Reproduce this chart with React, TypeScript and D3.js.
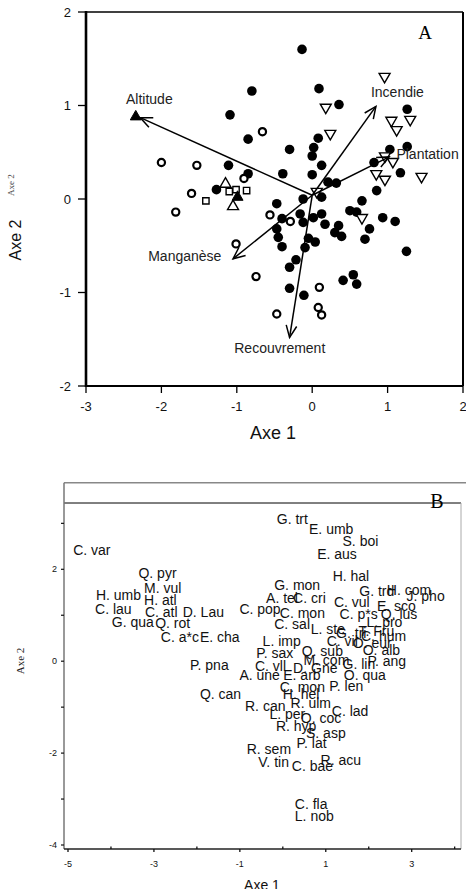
import React from "react";
import * as d3 from "d3";

// ---------- Panel A data ----------
const filledCircles: [number, number][] = [
  [-0.135, 1.6], [-0.8, 1.155], [0.09, 1.18], [0.355, 1.01], [-1.09, 0.9], [-0.85, 0.64],
  [-0.3, 0.53], [0.08, 0.65], [0.02, 0.55], [1.26, 0.96], [1.03, 0.53], [1.26, 0.56],
  [0.0, 0.46], [0.125, 0.36], [-0.39, 0.27], [0.0, 0.26], [0.21, 0.18], [0.32, 0.17],
  [0.82, 0.39], [1.17, 0.28], [0.855, 0.09], [0.66, -0.02], [-0.12, 0.0], [0.125, 0.02],
  [-0.47, -0.05], [-1.11, 0.36], [-0.85, 0.27], [-1.27, 0.1], [-0.16, -0.16], [-0.4, -0.21],
  [0.015, -0.2], [0.125, -0.16], [0.17, -0.27], [-0.12, -0.25], [0.5, -0.125], [0.59, -0.14],
  [0.935, -0.2], [1.1, -0.24], [0.35, -0.285], [0.3, -0.36], [0.39, -0.4], [0.76, -0.32],
  [0.7, -0.43], [-0.47, -0.32], [-0.45, -0.41], [-0.4, -0.51], [-0.05, -0.42], [0.04, -0.46],
  [-0.095, -0.52], [-0.215, -0.65], [-0.3, -0.73], [1.25, -0.56], [0.41, -0.87], [0.545, -0.81],
  [0.59, -0.91], [-0.3, -0.955], [-0.11, -1.03],
];
const openCircles: [number, number][] = [
  [-2.0, 0.39], [-1.53, 0.36], [-1.6, 0.06], [-1.81, -0.14], [-0.905, 0.22], [-0.66, 0.72],
  [-0.56, -0.17], [-0.29, -0.24], [-1.01, -0.48], [-0.745, -0.83], [0.095, -0.945],
  [0.08, -1.16], [0.125, -1.24], [-0.47, -1.23],
];
const openTrianglesDown: [number, number][] = [
  [0.96, 1.31], [0.18, 0.98], [0.24, 0.7], [1.05, 0.84], [1.12, 0.74], [1.3, 0.85],
  [0.965, 0.46], [1.07, 0.4], [0.85, 0.27], [0.965, 0.21], [1.45, 0.24], [0.06, 0.08], [0.66, -0.2],
];
const openTrianglesUp: [number, number][] = [[-1.15, 0.16], [-1.05, -0.08]];
const openSquares: [number, number][] = [[-1.41, -0.02], [-1.1, 0.08], [-1.01, 0.1], [-0.87, 0.09]];
const filledTriangles: [number, number][] = [[-2.34, 0.88], [-0.99, 0.02]];

const arrowNames = ["Altitude", "Incendie", "Plantation", "Manganèse", "Recouvrement"];
const arrowTips: [number, number][] = [[-2.28, 0.87], [0.845, 0.99], [1.02, 0.45], [-1.05, -0.64], [-0.3, -1.48]];
const arrowLabelPos: [number, number][] = [[-2.16, 1.07], [1.13, 1.14], [1.53, 0.48], [-1.69, -0.61], [-0.43, -1.59]];
const arrowOrigin: [number, number] = [0, 0.04];

const aXTicks = [-3, -2, -1, 0, 1, 2];
const aYTicks = [-2, -1, 0, 1, 2];

// ---------- Panel B data ----------
const speciesNames = [
  "C. var", "Q. pyr", "M. vul", "H. umb", "H. atl", "C. lau", "C. atl", "D. Lau", "G. qua", "Q. rot",
  "C. a*c", "E. cha", "P. pna", "Q. can", "G. trt", "E. umb", "S. boi", "E. aus", "H. hal", "G. mon",
  "G. trd", "H. com", "J. pho", "A. tel", "C. cri", "C. vul", "E. sco", "C. pop", "C. mon", "C. p*s",
  "Q. lus", "L. pro", "C. sal", "L. ste", "G. tri", "T. Fru", "L. imp", "C. vil", "O. eur", "C. hum",
  "O. alb", "P. sax", "Q. sub", "M. com", "P. ang", "C. vll", "D. Gne", "G. lin", "A. une", "E. arb",
  "O. qua", "C. mon", "P. len", "H. hel", "R. ulm", "R. can", "C. lad", "L. per", "O. coc", "R. hyp",
  "S. asp", "P. lat", "R. sem", "R. acu", "V. tin", "C. bae", "C. fla", "L. nob",
];
const speciesX = [
  -4.88, -3.36, -3.23, -4.35, -3.23, -4.37, -3.21, -2.33, -3.98, -2.97,
  -2.84, -1.93, -2.16, -1.93, -0.14, 0.61, 1.39, 0.8, 1.16, -0.2,
  1.78, 2.42, 2.88, -0.39, 0.24, 1.19, 2.19, -1.01, -0.07, 1.32,
  2.28, 1.95, -0.2, 0.65, 1.24, 1.76, -0.47, 1.02, 1.63, 1.82,
  1.86, -0.62, 0.44, 0.48, 1.97, -0.65, 0.24, 1.39, -1.01, 0.01,
  1.42, -0.07, 1.08, 0.0, 0.18, -0.88, 1.14, -0.31, 0.42, -0.16,
  0.54, 0.32, -0.84, 0.88, -0.57, 0.21, 0.28, 0.28,
];
const speciesY = [
  2.42, 1.91, 1.6, 1.45, 1.34, 1.14, 1.07, 1.07, 0.85, 0.84,
  0.53, 0.53, -0.09, -0.72, 3.1, 2.87, 2.61, 2.34, 1.85, 1.65,
  1.52, 1.56, 1.41, 1.38, 1.38, 1.28, 1.2, 1.13, 1.05, 1.02,
  1.02, 0.85, 0.82, 0.71, 0.62, 0.65, 0.44, 0.44, 0.39, 0.54,
  0.25, 0.18, 0.22, 0.02, 0.0, -0.11, -0.14, -0.07, -0.31, -0.31,
  -0.31, -0.56, -0.53, -0.72, -0.91, -0.98, -1.09, -1.14, -1.23, -1.41,
  -1.57, -1.77, -1.92, -2.14, -2.2, -2.29, -3.1, -3.36,
];
const bXTickLabels = [-5, -3, -1, 1, 3];
const bXTicks = [-5, -4, -3, -2, -1, 0, 1, 2, 3, 4];
const bYTickLabels = [-4, -2, 0, 2];
const bYTicks = [-4, -3, -2, -1, 0, 1, 2, 3];

const SANS = "'Liberation Sans', Arial, Helvetica, sans-serif";
const SERIF = "'Liberation Serif', 'Times New Roman', serif";

function PanelA() {
  const x = d3.scaleLinear().domain([-3, 2]).range([86, 463]);
  const y = d3.scaleLinear().domain([-2, 2]).range([386, 12]);
  const tri = d3.symbol().type(d3.symbolTriangle).size(52);
  const sq = d3.symbol().type(d3.symbolSquare).size(40);

  const arrowHead = (x0: number, y0: number, x1: number, y1: number) => {
    const ang = Math.atan2(y1 - y0, x1 - x0);
    const L = 13, a = 0.42;
    const p1 = [x1 - L * Math.cos(ang - a), y1 - L * Math.sin(ang - a)];
    const p2 = [x1 - L * Math.cos(ang + a), y1 - L * Math.sin(ang + a)];
    return `M${p1[0]},${p1[1]}L${x1},${y1}L${p2[0]},${p2[1]}`;
  };

  return (
    <g>
      {/* markers */}
      {filledCircles.map((d, i) => (
        <circle key={"fc" + i} cx={x(d[0])} cy={y(d[1])} r={4.8} fill="#000" />
      ))}
      {openCircles.map((d, i) => (
        <circle key={"oc" + i} cx={x(d[0])} cy={y(d[1])} r={3.6} fill="#fff" stroke="#000" strokeWidth={2.2} />
      ))}
      {openTrianglesDown.map((d, i) => (
        <path key={"td" + i} d={tri() as string} transform={`translate(${x(d[0])},${y(d[1])}) rotate(180)`} fill="#fff" stroke="#000" strokeWidth={1.4} />
      ))}
      {openTrianglesUp.map((d, i) => (
        <path key={"tu" + i} d={tri() as string} transform={`translate(${x(d[0])},${y(d[1])})`} fill="#fff" stroke="#000" strokeWidth={1.4} />
      ))}
      {openSquares.map((d, i) => (
        <path key={"sq" + i} d={sq() as string} transform={`translate(${x(d[0])},${y(d[1])})`} fill="#fff" stroke="#000" strokeWidth={1.4} />
      ))}
      {filledTriangles.map((d, i) => (
        <path key={"ft" + i} d={tri() as string} transform={`translate(${x(d[0])},${y(d[1])})`} fill="#000" stroke="#000" strokeWidth={1} />
      ))}
      {/* arrows */}
      {arrowTips.map((t, i) => {
        const x0 = x(arrowOrigin[0]), y0 = y(arrowOrigin[1]);
        const x1 = x(t[0]), y1 = y(t[1]);
        return (
          <g key={"ar" + i}>
            <line x1={x0} y1={y0} x2={x1} y2={y1} stroke="#000" strokeWidth={1.5} />
            <path d={arrowHead(x0, y0, x1, y1)} fill="none" stroke="#000" strokeWidth={1.5} />
            <text x={x(arrowLabelPos[i][0])} y={y(arrowLabelPos[i][1])} textAnchor="middle" dominantBaseline="central" fontFamily={SANS} fontSize={14} fill="#222">
              {arrowNames[i]}
            </text>
          </g>
        );
      })}
      {/* frame */}
      <line x1={86} y1={12} x2={463} y2={12} stroke="#000" strokeWidth={1.5} />
      <line x1={463} y1={12} x2={463} y2={386} stroke="#000" strokeWidth={2} />
      <line x1={86} y1={386} x2={463} y2={386} stroke="#000" strokeWidth={2} />
      <line x1={86} y1={11} x2={86} y2={387} stroke="#000" strokeWidth={2.6} />
      {/* ticks */}
      {aYTicks.map((t) => (
        <g key={"ay" + t}>
          <line x1={78} x2={86} y1={y(t)} y2={y(t)} stroke="#000" strokeWidth={1.3} />
          <text x={71} y={y(t)} textAnchor="end" dominantBaseline="central" fontFamily={SANS} fontSize={13} fill="#111">{t}</text>
        </g>
      ))}
      {aXTicks.map((t) => (
        <g key={"ax" + t}>
          <line x1={x(t)} x2={x(t)} y1={386} y2={393} stroke="#000" strokeWidth={1.3} />
          <text x={x(t)} y={406} textAnchor="middle" dominantBaseline="central" fontFamily={SANS} fontSize={13} fill="#111">{t}</text>
        </g>
      ))}
      <text x={425} y={39} textAnchor="middle" fontFamily={SERIF} fontSize={19} fill="#000">A</text>
      <text x={273} y={439} textAnchor="middle" fontFamily={SANS} fontSize={18} fill="#111">Axe 1</text>
      <text transform="translate(21,240) rotate(-90)" textAnchor="middle" fontFamily={SANS} fontSize={16} fill="#111">Axe 2</text>
      <text transform="translate(14,185) rotate(-90)" textAnchor="middle" fontFamily={SERIF} fontSize={9} fill="#444">Axe 2</text>
    </g>
  );
}

function PanelB() {
  const x = d3.scaleLinear().domain([-5, 3]).range([68, 411.7]);
  const y = d3.scaleLinear().domain([-4, 2]).range([845, 569.3]);
  const left = 64, right = 461, topOuter = 482.7, topInner = 503, bottom = 849;
  return (
    <g>
      {speciesNames.map((n, i) => (
        <text key={"sp" + i} x={x(speciesX[i])} y={y(speciesY[i])} dominantBaseline="central" fontFamily={SANS} fontSize={14} fill="#111">
          {n}
        </text>
      ))}
      {/* frame */}
      <line x1={left} y1={topOuter} x2={466} y2={topOuter} stroke="#888" strokeWidth={1.5} />
      <line x1={left} y1={topInner} x2={right} y2={topInner} stroke="#000" strokeWidth={1} />
      <line x1={right} y1={topInner} x2={right} y2={bottom} stroke="#aaa" strokeWidth={1} />
      <line x1={left} y1={topOuter} x2={left} y2={bottom} stroke="#777" strokeWidth={1.5} />
      <line x1={left} y1={bottom} x2={right} y2={bottom} stroke="#222" strokeWidth={1.5} />
      {bYTicks.map((t) => (
        <line key={"byt" + t} x1={left - 3} x2={left} y1={y(t)} y2={y(t)} stroke="#111" strokeWidth={1.2} />
      ))}
      {bYTickLabels.map((t) => (
        <text key={"byl" + t} x={57} y={y(t)} textAnchor="end" dominantBaseline="central" fontFamily={SANS} fontSize={9} fill="#111">{t}</text>
      ))}
      {bXTicks.map((t) => (
        <line key={"bxt" + t} x1={x(t)} x2={x(t)} y1={bottom} y2={bottom + (t % 2 === 0 ? -2.5 : 3)} stroke="#111" strokeWidth={1.3} />
      ))}
      {bXTickLabels.map((t) => (
        <text key={"bxl" + t} x={x(t)} y={864} textAnchor="middle" dominantBaseline="central" fontFamily={SANS} fontSize={9} fill="#111">{t}</text>
      ))}
      <text x={437} y={508} textAnchor="middle" fontFamily={SERIF} fontSize={20} fill="#000">B</text>
      <text x={262} y={890} textAnchor="middle" fontFamily={SANS} fontSize={14} fill="#111">Axe 1</text>
      <text transform="translate(24,661) rotate(-90)" textAnchor="middle" fontFamily={SERIF} fontSize={11} fill="#222">Axe 2</text>
    </g>
  );
}

export default function App() {
  return (
    <svg width={466} height={889} style={{ position: "absolute", left: 0, top: 0, background: "#fff" }}>
      <rect x={0} y={0} width={466} height={889} fill="#fff" />
      <PanelA />
      <PanelB />
    </svg>
  );
}
